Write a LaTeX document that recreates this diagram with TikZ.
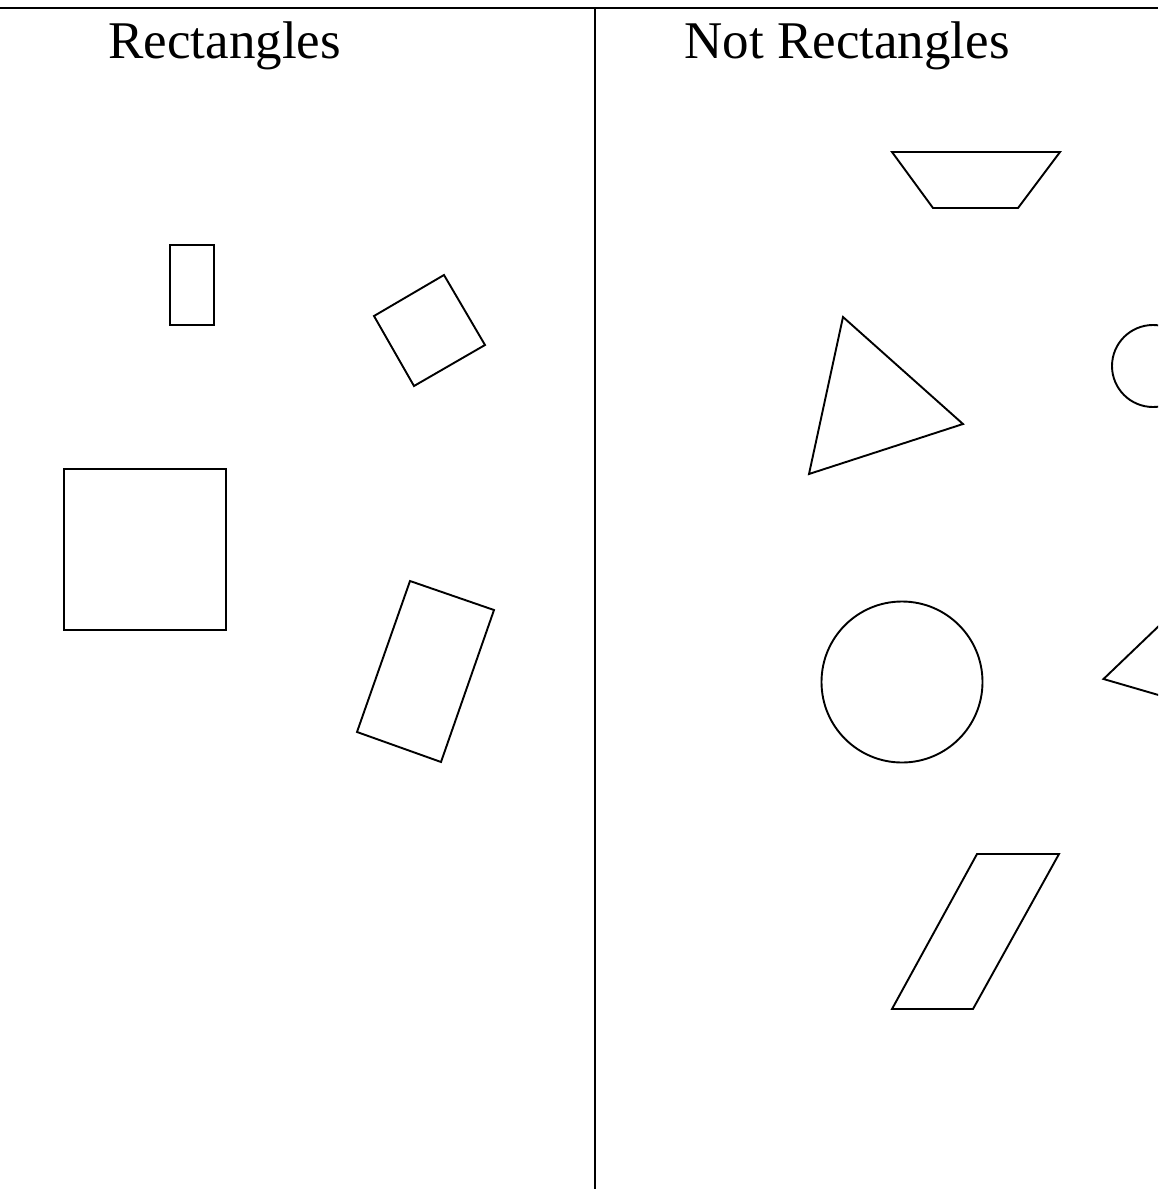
\documentclass[tikz,border=0pt]{standalone}
\usepackage{fontspec}
\setmainfont{Liberation Serif}
\begin{document}
\begin{tikzpicture}[x=0.5pt,y=-0.5pt,
  figline/.style={draw=black,line width=0.95pt,line join=miter},
  rule/.style={draw=black,line width=1pt},
  title/.style={anchor=base west,inner sep=0pt,font=\fontsize{26.5}{30}\selectfont}]
\useasboundingbox (0,0) rectangle (1158,1189);
\clip (0,0) rectangle (1158,1189);
% frame lines
\coordinate (tl) at (0,8);
\coordinate (tr) at (1158,8);
\coordinate (vt) at (595,8);
\coordinate (vb) at (595,1189);
\draw[rule] (tl) -- (tr);
\draw[rule] (vt) -- (vb);
% titles
\node[title] (t1) at (108,58) {Rectangles};
\node[title] (t2) at (684,58) {Not Rectangles};
% rectangles
\draw[figline] (170,245) rectangle (214,325);
\draw[figline] (444,275) -- (485,345) -- (414,386) -- (374,316) -- cycle;
\draw[figline] (64,469) rectangle (226,630);
\draw[figline] (410,581) -- (494,610) -- (441,762) -- (357,732) -- cycle;
% not rectangles
\draw[figline] (892,152) -- (1060,152) -- (1018,208) -- (933,208) -- cycle;
\draw[figline] (843,317) -- (963,424) -- (809,474) -- cycle;
\draw[figline] (1153,366) circle[radius=41];
\draw[figline] (902,682) circle[radius=80.5];
\draw[figline] (1210,577) -- (1103.5,679) -- (1210,710);
\draw[figline] (977,854) -- (1059,854) -- (973,1009) -- (892,1009) -- cycle;
\end{tikzpicture}
\end{document}
